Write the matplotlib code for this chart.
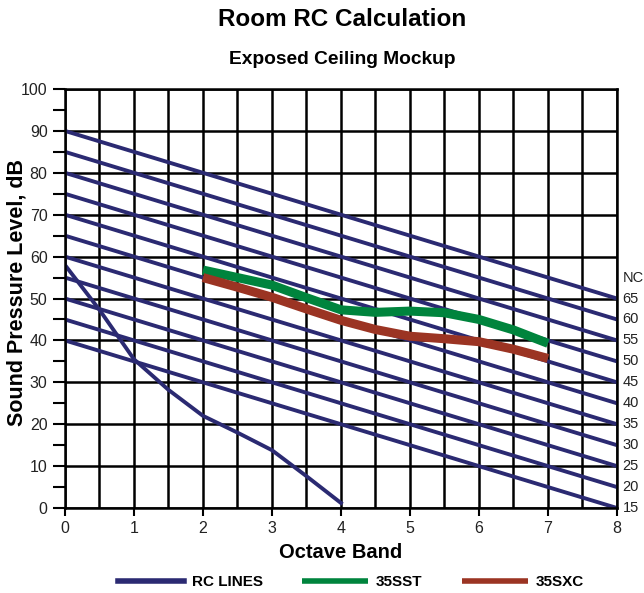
import numpy as np
import matplotlib.pyplot as plt

plt.rcParams['font.family'] = ['Liberation Sans', 'DejaVu Sans']

# RC lines: start level at band 0, drop 5 dB per octave to band 8
rc_start = [90, 85, 80, 75, 70, 65, 60, 55, 50, 45, 40]
rc_end = [50, 45, 40, 35, 30, 25, 20, 15, 10, 5, 0]
nc_labels = ['65', '60', '55', '50', '45', '40', '35', '30', '25', '20', '15']

# lower boundary curve
low_x = [0, 0.5, 1, 1.5, 2, 2.5, 3, 3.5, 4]
low_y = [58, 47.3, 35.5, 28.2, 22, 18, 13.8, 7.6, 1.2]

sst_x = [2, 2.5, 3, 3.5, 4, 4.5, 5, 5.5, 6, 6.5, 7]
sst_y = [56.8, 55, 53.2, 50.2, 47.3, 46.7, 47.0, 46.6, 45.0, 42.5, 39.3]

sxc_x = [2, 2.5, 3, 3.5, 4, 4.5, 5, 5.5, 6, 6.5, 7]
sxc_y = [55, 52.7, 50.3, 47.5, 44.8, 42.6, 41.0, 40.4, 39.7, 37.9, 35.7]

navy = '#2b2a72'
green = '#00843d'
brown = '#9b3423'
txt = '#222222'

fig = plt.figure(figsize=(6.44, 5.93), dpi=100)
ax = fig.add_axes([0.1009, 0.1433, 0.8571, 0.7066])

ax.set_xlim(0, 8)
ax.set_ylim(0, 100)

# grid
for gx in np.arange(0, 8.01, 0.5):
    ax.axvline(gx, color='black', lw=1.8, zorder=1)
for gy in np.arange(0, 100.1, 10):
    ax.axhline(gy, color='black', lw=1.8, zorder=1)

for i, (s, e) in enumerate(zip(rc_start, rc_end)):
    ax.plot([0, 8], [s, e], color=navy, lw=2.8, zorder=2,
            label='RC LINES' if i == 0 else None)
    ax.text(8.08, e, nc_labels[i], fontsize=10.5, va='center', ha='left',
            color=txt)
ax.text(8.08, 55, 'NC', fontsize=10.5, va='center', ha='left', color=txt)

ax.plot(low_x, low_y, color=navy, lw=2.8, zorder=2)

ax.plot(sst_x, sst_y, color=green, lw=6.5, zorder=3, label='35SST',
        solid_capstyle='butt')
ax.plot(sxc_x, sxc_y, color=brown, lw=6.5, zorder=3, label='35SXC',
        solid_capstyle='butt')

ax.set_xticks(range(0, 9))
ax.set_yticks(range(0, 101, 10))
ax.set_yticks(range(5, 100, 10), minor=True)
ax.tick_params(axis='both', which='both', direction='out', width=1.5,
               color='black', labelsize=11.5, labelcolor=txt)
ax.tick_params(axis='y', which='both', length=9)
ax.tick_params(axis='x', length=6)

for sp in ax.spines.values():
    sp.set_linewidth(1.8)

fig.text(0.5295, 0.0675, 'Octave Band', ha='center', va='center',
         fontsize=14.5, fontweight='bold')
fig.text(0.027, 0.506, 'Sound Pressure Level, dB', ha='center',
         va='center', rotation=90, fontsize=15.5, fontweight='bold')

fig.text(0.531, 0.967, 'Room RC Calculation', ha='center', va='center',
         fontsize=17.5, fontweight='bold')
fig.text(0.531, 0.899, 'Exposed Ceiling Mockup', ha='center', va='center',
         fontsize=13.8, fontweight='bold')

leg = fig.legend(loc='center', bbox_to_anchor=(0.545, 0.018), ncol=3,
                 frameon=False, handlelength=4.3, columnspacing=2.6,
                 handletextpad=0.5,
                 prop={'weight': 'bold', 'size': 11})
for h in leg.get_lines():
    h.set_linewidth(4)

fig.savefig('out.png', dpi=100)
